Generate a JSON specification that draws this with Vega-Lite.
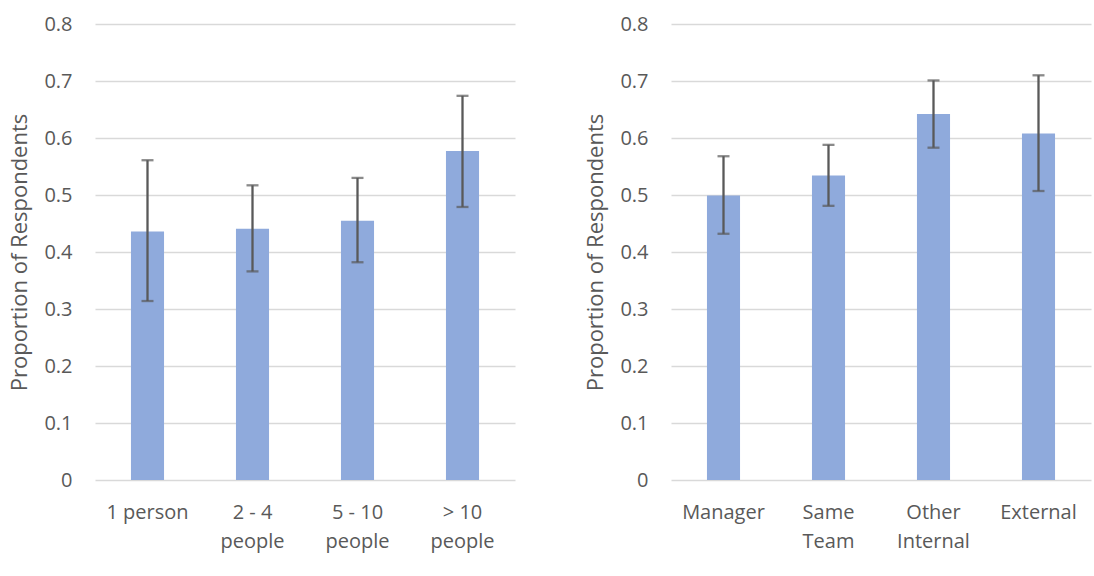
{
  "$schema": "https://vega.github.io/schema/vega-lite/v6.json",
  "padding": {"left": 8, "top": 14, "right": 10, "bottom": 40},
  "background": "white",
  "bounds": "flush",
  "spacing": 156,
  "datasets": {
    "teamSize": [
      {"group": "1 person", "value": 0.436, "low": 0.314, "high": 0.561},
      {"group": "2 - 4|people", "value": 0.441, "low": 0.366, "high": 0.517},
      {"group": "5 - 10|people", "value": 0.455, "low": 0.382, "high": 0.530},
      {"group": "> 10|people", "value": 0.577, "low": 0.479, "high": 0.674}
    ],
    "contact": [
      {"group": "Manager", "value": 0.499, "low": 0.432, "high": 0.568},
      {"group": "Same|Team", "value": 0.534, "low": 0.481, "high": 0.588},
      {"group": "Other|Internal", "value": 0.642, "low": 0.583, "high": 0.701},
      {"group": "External", "value": 0.608, "low": 0.507, "high": 0.710}
    ]
  },
  "config": {
    "font": "Open Sans",
    "view": {"stroke": null},
    "axis": {
      "labelFont": "Open Sans",
      "titleFont": "Open Sans",
      "labelColor": "#595959",
      "titleColor": "#595959",
      "labelFontSize": 20,
      "titleFontSize": 22,
      "titleFontWeight": "normal",
      "gridColor": "#D9D9D9",
      "gridWidth": 1.7,
      "domain": false,
      "ticks": false
    }
  },
  "hconcat": [
    {
      "width": 420,
      "height": 456,
      "data": {"name": "teamSize"},
      "encoding": {
        "x": {
          "field": "group",
          "type": "nominal",
          "sort": null,
          "scale": {"paddingInner": 0, "paddingOuter": 0},
          "axis": {"title": null, "labelAngle": 0, "labelPadding": 22, "labelLineHeight": 29, "labelBaseline": "top", "labelExpr": "split(datum.value, '|')", "grid": false}
        }
      },
      "layer": [
        {
          "mark": {"type": "bar", "color": "#8FAADC", "width": {"band": 0.315}},
          "encoding": {
            "y": {
              "field": "value",
              "type": "quantitative",
              "title": "Proportion of Respondents",
              "scale": {"domain": [0, 0.8]},
              "axis": {"values": [0, 0.1, 0.2, 0.3, 0.4, 0.5, 0.6, 0.7, 0.8], "format": ".1~f", "labelPadding": 23, "titlePadding": 12}
            }
          }
        },
        {
          "mark": {"type": "errorbar", "color": "#595959", "thickness": 2.3, "ticks": {"size": 12, "thickness": 2.3, "color": "#595959"}},
          "encoding": {
            "y": {"field": "low", "type": "quantitative", "title": "Proportion of Respondents"},
            "y2": {"field": "high"}
          }
        }
      ]
    },
    {
      "width": 420,
      "height": 456,
      "data": {"name": "contact"},
      "encoding": {
        "x": {
          "field": "group",
          "type": "nominal",
          "sort": null,
          "scale": {"paddingInner": 0, "paddingOuter": 0},
          "axis": {"title": null, "labelAngle": 0, "labelPadding": 22, "labelLineHeight": 29, "labelBaseline": "top", "labelExpr": "split(datum.value, '|')", "grid": false}
        }
      },
      "layer": [
        {
          "mark": {"type": "bar", "color": "#8FAADC", "width": {"band": 0.315}},
          "encoding": {
            "y": {
              "field": "value",
              "type": "quantitative",
              "title": "Proportion of Respondents",
              "scale": {"domain": [0, 0.8]},
              "axis": {"values": [0, 0.1, 0.2, 0.3, 0.4, 0.5, 0.6, 0.7, 0.8], "format": ".1~f", "labelPadding": 23, "titlePadding": 12}
            }
          }
        },
        {
          "mark": {"type": "errorbar", "color": "#595959", "thickness": 2.3, "ticks": {"size": 12, "thickness": 2.3, "color": "#595959"}},
          "encoding": {
            "y": {"field": "low", "type": "quantitative", "title": "Proportion of Respondents"},
            "y2": {"field": "high"}
          }
        }
      ]
    }
  ]
}
